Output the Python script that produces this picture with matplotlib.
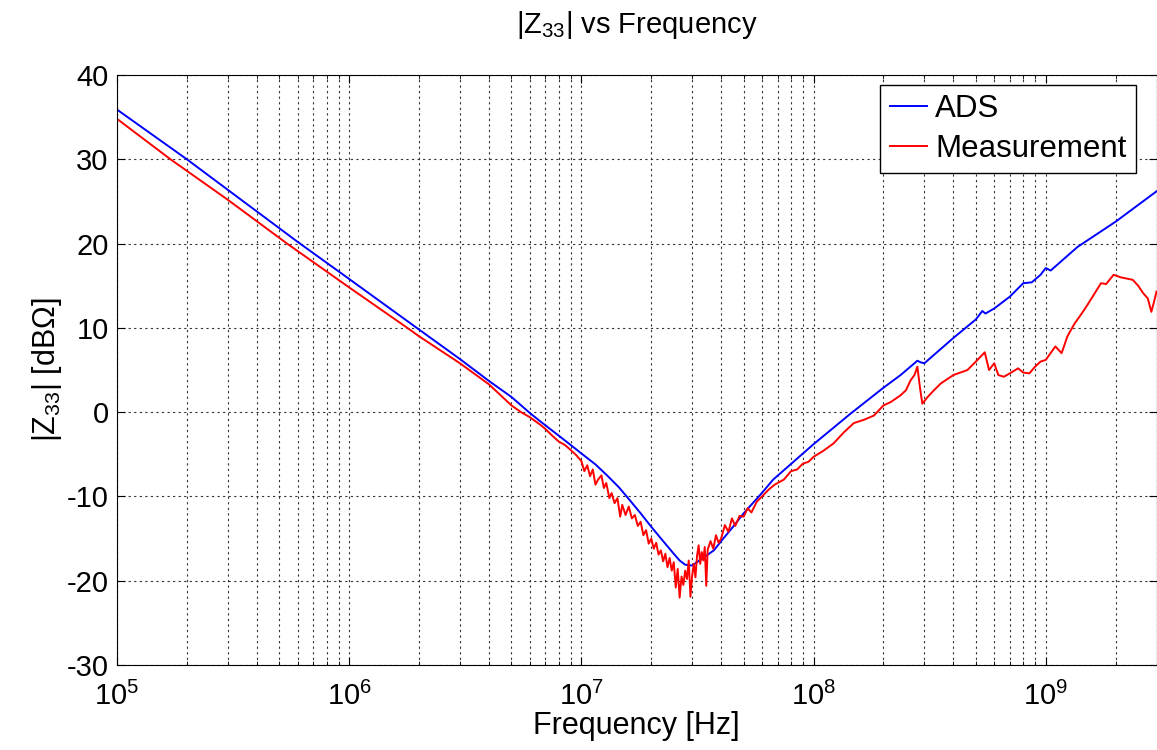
import numpy as np
import matplotlib
matplotlib.use("Agg")
import matplotlib.pyplot as plt
from matplotlib.ticker import LogLocator, NullFormatter

plt.rcParams['font.family'] = ['Liberation Sans', 'DejaVu Sans']
plt.rcParams['mathtext.fontset'] = 'custom'
plt.rcParams['mathtext.rm'] = 'Liberation Sans'
plt.rcParams['mathtext.default'] = 'regular'
plt.rcParams['axes.unicode_minus'] = False

# ADS simulation
f_ads = [1e5, 2e5, 6e5, 1e6, 2e6, 3e6, 4e6, 5e6, 6e6, 6.66e6, 8e6, 9e6, 1e7, 1.15e7,
         1.29e7, 1.45e7, 1.6e7, 1.8e7, 2e7, 2.25e7, 2.5e7, 2.65e7, 2.8e7, 3e7, 3.26e7,
         3.72e7, 4e7, 4.5e7, 5e7, 5.9e7, 6.7e7, 1e8, 1.44e8, 2e8, 2.37e8, 2.8e8,
         2.9e8, 3e8, 4e8, 5e8, 5.33e8, 5.5e8, 6e8, 7e8, 8e8, 8.7e8, 9.5e8, 1e9,
         1.05e9, 1.37e9, 2e9, 3e9]
z_ads = [35.9, 30.0, 20.2, 15.8, 9.8, 6.3, 3.7, 1.8, -0.1, -1.1, -2.8, -3.9, -4.9, -6.2,
         -7.5, -8.9, -10.3, -12.0, -13.6, -15.3, -16.8, -17.6, -18.1, -18.2, -17.5,
         -16.4, -15.3, -13.6, -12.0, -9.8, -8.0, -3.8, -0.2, 2.9, 4.4, 6.1,
         5.9, 5.8, 8.8, 11.0, 12.0, 11.7, 12.3, 13.7, 15.3, 15.4, 16.3, 17.1,
         16.8, 19.6, 22.6, 26.2]

f_meas = [1e5, 1.7e5, 3e5, 5.4e5, 1e6, 1.78e6, 2e6, 3e6, 4e6, 5e6, 5.5e6, 6e6, 6.66e6,
          7e6, 7.5e6, 8e6, 8.5e6, 9e6, 9.5e6, 1e7, 1.03e7, 1.06e7, 1.09e7, 1.12e7,
          1.15e7, 1.18e7, 1.22e7, 1.25e7, 1.28e7, 1.32e7, 1.35e7, 1.39e7, 1.43e7,
          1.47e7, 1.5e7, 1.55e7, 1.6e7, 1.65e7, 1.7e7, 1.75e7, 1.8e7, 1.85e7, 1.9e7,
          1.95e7, 2e7, 2.05e7, 2.1e7, 2.15e7, 2.2e7, 2.25e7, 2.3e7, 2.35e7, 2.4e7,
          2.45e7, 2.5e7, 2.55e7, 2.6e7, 2.65e7, 2.7e7, 2.75e7, 2.8e7, 2.85e7, 2.9e7,
          2.95e7, 3e7, 3.05e7, 3.1e7, 3.15e7, 3.2e7, 3.25e7, 3.3e7, 3.35e7, 3.4e7,
          3.45e7, 3.5e7, 3.6e7, 3.7e7, 3.8e7, 3.9e7, 4e7, 4.15e7, 4.3e7, 4.45e7,
          4.6e7, 4.8e7, 5e7, 5.2e7, 5.4e7, 5.7e7, 6e7, 6.4e7, 6.8e7, 7.45e7, 8e7,
          8.5e7, 9e7, 9.5e7, 1e8, 1.1e8, 1.22e8, 1.35e8, 1.49e8, 1.65e8, 1.82e8,
          2e8, 2.15e8, 2.37e8, 2.5e8, 2.62e8, 2.72e8, 2.8e8, 2.87e8, 2.94e8, 3.1e8,
          3.3e8, 3.53e8, 4e8, 4.6e8, 5e8, 5.46e8, 5.7e8, 6e8, 6.25e8, 6.6e8, 7e8,
          7.6e8, 8e8, 8.5e8, 9e8, 9.5e8, 1e9, 1.1e9, 1.17e9, 1.24e9, 1.33e9, 1.42e9,
          1.51e9, 1.6e9, 1.73e9, 1.82e9, 1.96e9, 2.1e9, 2.37e9, 2.5e9, 2.63e9,
          2.75e9, 2.85e9, 2.92e9, 3e9]
z_meas = [34.8, 30.0, 25.2, 20.0, 14.8, 10.0, 9.0, 5.8, 3.3, 0.8, 0.0, -0.6, -1.5,
          -2.0, -2.8, -3.5, -3.9, -4.5, -5.1, -5.8, -7.0, -6.3, -7.6, -6.8,
          -8.6, -8.0, -7.5, -9.0, -8.4, -10.2, -9.6, -10.8, -10.2,
          -12.4, -11.0, -12.2, -11.2, -12.6, -12.2, -13.5, -13.0, -14.6, -14.0,
          -15.6, -15.0, -16.2, -15.5, -16.9, -16.4, -17.7, -16.8, -18.4, -17.3,
          -18.8, -17.8, -20.8, -18.6, -22.0, -19.5, -20.5, -18.8, -19.8, -17.6,
          -21.9, -19.4, -18.0, -19.6, -17.0, -15.8, -18.0, -16.6, -17.6, -16.0,
          -20.6, -16.3, -15.3, -16.2, -14.6, -15.5, -15.0, -13.4, -14.2, -12.6,
          -13.5, -12.3, -12.4, -11.4, -11.9, -10.6, -10.0, -9.2, -8.6, -8.0, -7.0,
          -6.8, -6.1, -5.9, -5.3, -4.6, -3.7, -2.4, -1.3, -0.9, -0.4,
          0.8, 1.2, 2.0, 2.6, 3.8, 4.4, 5.4, 3.0, 1.0, 1.8,
          2.6, 3.4, 4.4, 5.0, 6.0, 7.1, 5.0, 5.8, 4.4, 4.2, 4.6,
          5.2, 4.7, 4.6, 5.4, 6.0, 6.2, 7.8, 7.0, 9.0, 10.5, 11.6,
          12.7, 13.8, 15.3, 15.2, 16.3, 16.0, 15.7, 15.0, 14.1,
          13.5, 11.9, 13.0, 14.3]

fig = plt.figure(figsize=(11.57, 7.5), dpi=100)
ax = fig.add_axes([0.1011, 0.1133, 0.8985, 0.7867])

ax.semilogx(f_ads, z_ads, color='#0000ff', linewidth=1.4, label='ADS')
ax.semilogx(f_meas, z_meas, color='#ff0000', linewidth=1.4, label='Measurement')

ax.set_xlim(1e5, 3e9)
ax.set_ylim(-30, 40)
ax.set_yticks(np.arange(-30, 41, 10))
ax.xaxis.set_major_locator(LogLocator(base=10, numticks=20))
ax.xaxis.set_minor_locator(LogLocator(base=10, subs=np.arange(2, 10), numticks=20))
ax.xaxis.set_minor_formatter(NullFormatter())

grid_style = dict(color='0.2', linestyle=(0, (2, 3)), linewidth=0.8)
ax.grid(True, which='major', **grid_style)
ax.grid(True, which='minor', axis='x', **grid_style)

ax.tick_params(which='both', direction='in', top=True, right=True, labelsize=21)
ax.tick_params(axis='y', pad=6)
ax.tick_params(axis='x', pad=12)
ax.tick_params(which='major', length=6)
ax.tick_params(which='minor', length=3)

ax.set_title('|Z$_{33}$| vs Frequency', fontsize=21, pad=30)
ax.set_xlabel('Frequency [Hz]', fontsize=22, labelpad=0)
ax.set_ylabel('|Z$_{33}$| [dB\u03a9]', fontsize=22, labelpad=2)

leg = ax.legend(loc='upper right', bbox_to_anchor=(0.98, 0.983), borderaxespad=0,
                fontsize=22.5, fancybox=False, framealpha=1, edgecolor='black',
                handlelength=1.2, handletextpad=0.25, borderpad=0.3,
                labelspacing=0.3)
leg.get_frame().set_linewidth(1.0)

fig.savefig('out.png', dpi=100)
